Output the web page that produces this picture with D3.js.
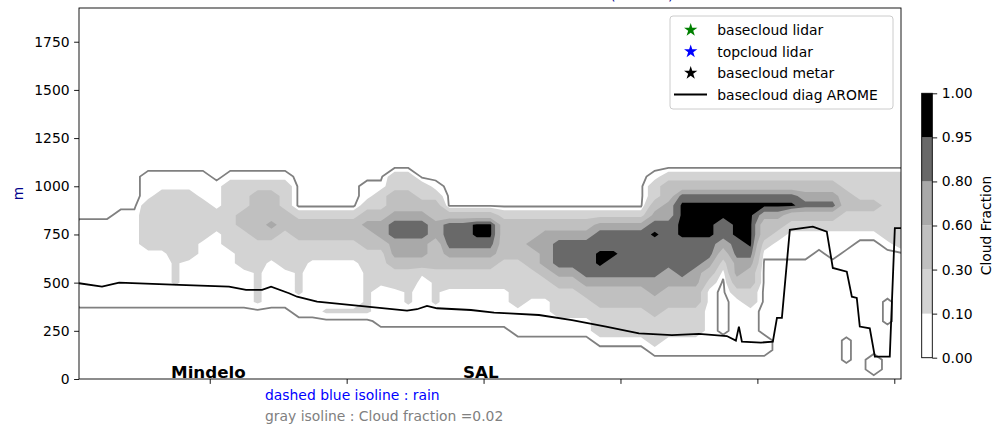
<!DOCTYPE html>
<html>
<head>
<meta charset="utf-8">
<script src="https://cdn.jsdelivr.net/npm/d3@7"></script>
<style>
  body { margin: 0; background: #fff; }
  svg { display: block; font-family: "DejaVu Sans", sans-serif; }
</style>
</head>
<body>
<svg width="996" height="425"></svg>
<script>
// ---------------- data ----------------
const lonTicks = [-25, -24, -23, -22, -21, -20];
const heightTicks = [0, 250, 500, 750, 1000, 1250, 1500, 1750];
const stationNames = ['Mindelo', 'SAL'];
const stationLon = [-25.01, -23.02];

const cfLevels = [0, 0.1, 0.3, 0.6, 0.8, 0.95, 1.0];
const cfColors = ['#ffffff', 'lightgray', 'silver', 'darkgray', 'dimgray', 'black'];

// cloud fraction value for each class letter used in the profiles
const cfClass = {'0': 0, 'a': 0.03, '1': 0.05, 'c': 0.12, '2': 0.2, '3': 0.45, '4': 0.7, '5': 0.875, '6': 0.98};
const gridLon0 = -25.95, gridLonStep = 0.1, gridHeightStep = 50;
// one vertical profile per model column (west -> east), first char = ground, one char per 50 m
const cfProfiles = [
  '0000000011111111100000000',
  '0000000011111111100000000',
  '0000000011111111100000000',
  '0000000011111111110000000',
  '0000000011111111110000000',
  '0000000011111122222111000',
  '0000000011111122222211000',
  '0000000011ccc222222211000',
  '0000000011111222222211000',
  '0000000011111112222111000',
  '0000000011111111221110000', // 10
  '0000000011111122222221000',
  '0000000011112222332221000',
  '00000000cccc2223333321000',
  '0000000011111223433321000',
  '0000000011112222332221000',
  '000000011ccc2223320000000',
  '0000000111111223320000000',
  '0000000c11111223320000000',
  '0000000c11111223320000000',
  '0000000c11111223320000000', // 20
  '0000000ccccc2233432110000',
  '0000001111c22234432210000',
  '0000001111223445543322000',
  '00000011cc223445543322000',
  '00000011111c3445543220000',
  '00000011ccc23334433210000',
  '0000001111223455530000000',
  '0000001111223455530000000',
  '0000001111223456630000000',
  '0000001111223456630000000', // 30
  '0000001111222333320000000',
  '0000011122222333320000000',
  '0000011112223343320000000',
  '0000011112234444320000000',
  '0000011222345554320000000',
  '0000011222345554320000000',
  '0000011223455554320000000',
  '0000122233456655420000000',
  '0000122233455655420000000',
  '0000122233455555420000000', // 40
  '0000122233455555420000000',
  '0001222334455556543221000',
  '0001122233445555544332000',
  '0001122233455556666532000',
  '0001122233445556666532000',
  '0001111111234556666532000',
  '0001100000012345566532000',
  '0001111112344556666532000',
  '0001111122334566666532000',
  '0001100000000123346532000', // 50
  '0000000000000112346532000',
  '0000000000000111236532000',
  '0000000000000111235432000',
  '0000000000000011235432000',
  '0000000000000111235432000',
  '00aaa00000000011223322000',
  '0000000000000001223222000',
  '0110000000000001223222000',
  '000000aaa0000012222222000',
  '0000000000000022222222000'  // 60
];

// basecloud diag AROME
const aromeLon = [-25.955, -25.787, -25.662, -25.224, -24.859, -24.735, -24.618, -24.552, -24.421, -24.362,
  -24.216, -23.851, -23.559, -23.486, -23.413, -23.340, -23.092, -22.923, -22.814, -22.595,
  -22.354, -22.106, -21.865, -21.624, -21.427, -21.223, -21.157, -21.135, -21.113, -20.974,
  -20.887, -20.857, -20.821, -20.763, -20.595, -20.493, -20.449, -20.347, -20.310, -20.274,
  -20.252, -20.179, -20.142, -20.033, -19.996, -19.951];
const aromeBase = [497, 479, 500, 488, 479, 462, 462, 479, 445, 427,
  401, 375, 355, 362, 379, 367, 358, 344, 341, 332,
  306, 272, 237, 228, 234, 223, 199, 272, 194, 189,
  194, 317, 317, 774, 791, 765, 576, 557, 427, 421,
  272, 263, 116, 116, 783, 783];

// observations: none in this section
const lidarBase = [], lidarTop = [], metarBase = [];

// ---------------- layout ----------------
const svg = d3.select('svg');
const margin = {top: 8, right: 95, bottom: 46, left: 79},
    width = +svg.attr('width'),
    height = +svg.attr('height'),
    plotRight = width - margin.right,
    plotBottom = height - margin.bottom;

const x = d3.scaleLinear().domain([-25.955, -19.951]).range([margin.left, plotRight]);
const y = d3.scaleLinear().domain([0, 1925]).range([plotBottom, margin.top]);

svg.append('defs').append('clipPath').attr('id', 'plotclip')
  .append('rect')
  .attr('x', margin.left).attr('y', margin.top)
  .attr('width', plotRight - margin.left).attr('height', plotBottom - margin.top);

// title (cut off by the top of the figure, only the brackets' feet show)
svg.append('text')
  .attr('x', 673.5).attr('y', 0.4)
  .attr('text-anchor', 'end')
  .style('font-size', '14.3px')
  .attr('fill', 'darkblue')
  .text('Cloud Fraction (AROME)');

const plot = svg.append('g').attr('clip-path', 'url(#plotclip)');

// ---------------- cloud fraction contours ----------------
const nx = cfProfiles.length, ny = cfProfiles[0].length;
const values = new Array(nx * ny);
cfProfiles.forEach(function (col, i) {
  for (let j = 0; j < ny; j++) values[j * nx + i] = cfClass[col[j]];
});

const contours = d3.contours().size([nx, ny]);
const gridProj = d3.geoTransform({
  point: function (gx, gy) {
    this.stream.point(x(gridLon0 + (gx - 0.5) * gridLonStep), y((gy - 0.5) * gridHeightStep));
  }
});
const gridPath = d3.geoPath(gridProj);

plot.selectAll('path.cf')
  .data(cfLevels.slice(1, -1))
  .enter().append('path')
  .attr('class', 'cf')
  .attr('d', t => gridPath(contours.contour(values, t)))
  .attr('fill', (t, k) => cfColors[k + 1]);

// gray isoline : cloud fraction = 0.02
plot.append('path')
  .attr('d', gridPath(contours.contour(values, 0.02)))
  .attr('fill', 'none')
  .attr('stroke', 'gray')
  .attr('stroke-width', 1.8);

// AROME diagnosed cloud base
plot.append('path')
  .datum(d3.range(aromeLon.length))
  .attr('d', d3.line().x(k => x(aromeLon[k])).y(k => y(aromeBase[k])))
  .attr('fill', 'none')
  .attr('stroke', 'black')
  .attr('stroke-width', 1.8);

// observations (stars)
const star = d3.symbol().type(d3.symbolStar).size(55);
[[lidarBase, 'green'], [lidarTop, 'blue'], [metarBase, 'black']].forEach(function (s) {
  plot.selectAll(null).data(s[0]).enter().append('path')
    .attr('d', star)
    .attr('transform', d => `translate(${x(d[0])},${y(d[1])})`)
    .attr('fill', s[1]);
});

// station names
svg.selectAll('text.station')
  .data(stationNames)
  .enter().append('text')
  .attr('class', 'station')
  .attr('x', (d, k) => x(stationLon[k]))
  .attr('y', plotBottom - 1)
  .attr('text-anchor', 'middle')
  .style('font-size', '16.7px')
  .style('font-weight', 'bold')
  .text(d => d);

// ---------------- axes ----------------
const yAxis = svg.append('g')
  .attr('transform', `translate(${margin.left},0)`)
  .call(d3.axisLeft(y).tickValues(heightTicks).tickFormat(d3.format('d')).tickSize(4.9).tickPadding(4.5));
const xAxis = svg.append('g')
  .attr('transform', `translate(0,${plotBottom})`)
  .call(d3.axisBottom(x).tickValues(lonTicks).tickFormat('').tickSize(4.9));
[yAxis, xAxis].forEach(function (a) {
  a.select('.domain').remove();
  a.selectAll('text').style('font-size', '13.9px').style('font-family', '"DejaVu Sans", sans-serif');
  a.selectAll('line').attr('stroke-width', 0.9);
});

svg.append('rect')
  .attr('x', margin.left).attr('y', margin.top)
  .attr('width', plotRight - margin.left).attr('height', plotBottom - margin.top)
  .attr('fill', 'none').attr('stroke', 'black').attr('stroke-width', 0.9);

svg.append('text')
  .attr('transform', `translate(23,${(margin.top + plotBottom) / 2}) rotate(-90)`)
  .attr('text-anchor', 'middle')
  .style('font-size', '13.9px')
  .attr('fill', 'darkblue')
  .text('m');

// notes under the plot
svg.append('text')
  .attr('x', 265).attr('y', 399.5)
  .style('font-size', '13.9px')
  .attr('fill', 'blue')
  .text('dashed blue isoline : rain');
svg.append('text')
  .attr('x', 265).attr('y', 421)
  .style('font-size', '13.9px')
  .attr('fill', 'gray')
  .text('gray isoline : Cloud fraction =0.02');

// ---------------- legend ----------------
const legend = svg.append('g');
legend.append('rect')
  .attr('x', 670).attr('y', 16).attr('width', 223).attr('height', 93).attr('rx', 3)
  .attr('fill', 'white').attr('fill-opacity', 0.8)
  .attr('stroke', '#cccccc');

const legendItems = [
  {label: 'basecloud lidar', color: 'green', kind: 'star'},
  {label: 'topcloud lidar', color: 'blue', kind: 'star'},
  {label: 'basecloud metar', color: 'black', kind: 'star'},
  {label: 'basecloud diag AROME', color: 'black', kind: 'line'}
];
legendItems.forEach(function (it, k) {
  const ly = 30 + k * 21.5;
  if (it.kind === 'star') {
    legend.append('path')
      .attr('d', star)
      .attr('transform', `translate(690.7,${ly})`)
      .attr('fill', it.color);
  } else {
    legend.append('line')
      .attr('x1', 674).attr('x2', 707).attr('y1', ly).attr('y2', ly)
      .attr('stroke', it.color).attr('stroke-width', 1.8);
  }
  legend.append('text')
    .attr('x', 717.3).attr('y', ly)
    .attr('dominant-baseline', 'central')
    .style('font-size', '13.9px')
    .text(it.label);
});

// ---------------- colorbar ----------------
const cbX = 921.7, cbW = 10.6;
const cbY = d3.scaleLinear().domain([0, cfLevels.length - 1]).range([357.7, 93.3]);
const cbar = svg.append('g');
cbar.selectAll('rect.seg')
  .data(cfColors)
  .enter().append('rect')
  .attr('class', 'seg')
  .attr('x', cbX).attr('width', cbW)
  .attr('y', (c, k) => cbY(k + 1))
  .attr('height', (c, k) => cbY(k) - cbY(k + 1))
  .attr('fill', c => c);
cbar.append('rect')
  .attr('x', cbX).attr('y', cbY(cfLevels.length - 1))
  .attr('width', cbW).attr('height', cbY(0) - cbY(cfLevels.length - 1))
  .attr('fill', 'none').attr('stroke', 'black').attr('stroke-width', 0.9);
const cbAxis = cbar.append('g')
  .attr('transform', `translate(${cbX + cbW},0)`)
  .call(d3.axisRight(cbY).tickValues(d3.range(cfLevels.length))
    .tickFormat(k => d3.format('.2f')(cfLevels[k])).tickSize(4.9).tickPadding(4.5));
cbAxis.select('.domain').remove();
cbAxis.selectAll('text').style('font-size', '13.9px').style('font-family', '"DejaVu Sans", sans-serif');
cbAxis.selectAll('line').attr('stroke-width', 0.9);

svg.append('text')
  .attr('transform', `translate(991,${(cbY(0) + cbY(cfLevels.length - 1)) / 2}) rotate(-90)`)
  .attr('text-anchor', 'middle')
  .style('font-size', '13.9px')
  .text('Cloud Fraction');
</script>
</body>
</html>
